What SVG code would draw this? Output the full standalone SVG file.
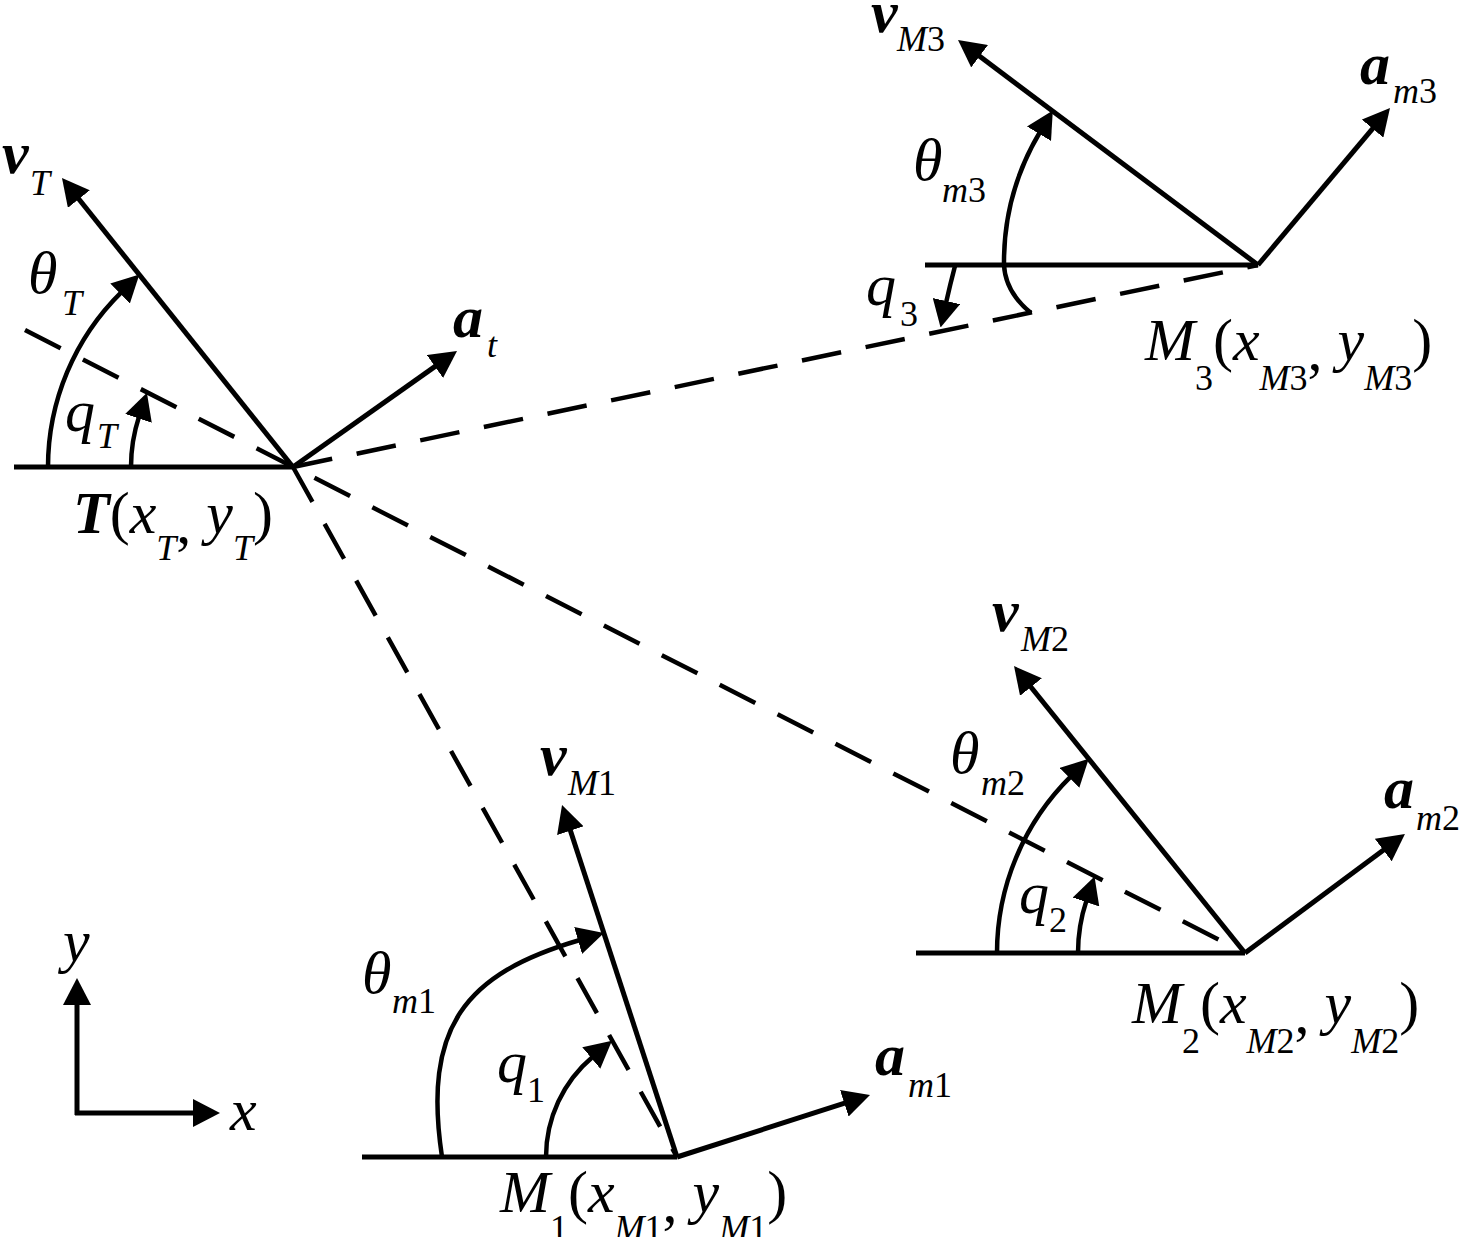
<svg xmlns="http://www.w3.org/2000/svg" width="1462" height="1237" viewBox="0 0 1462 1237">
<style>
.ln{stroke:#000;stroke-width:5;fill:none}
.arc{stroke:#000;stroke-width:4.5;fill:none}
.ds{stroke:#000;stroke-width:4.5;stroke-dasharray:40 25;fill:none}
.ar{marker-end:url(#ah)}
text{font-family:"Liberation Serif","Times New Roman",serif;font-style:italic;font-size:60px;fill:#000}
.b{font-weight:bold}
.s{font-size:36px}
.u{font-style:normal}
</style>
<defs>
<marker id="ah" viewBox="0 0 27 28" refX="2" refY="14" markerWidth="27" markerHeight="28" orient="auto" markerUnits="userSpaceOnUse"><path d="M0,0 L27,14 L0,28 Z" fill="#000"/></marker>
</defs>
<rect width="1462" height="1237" fill="#fff"/>
<g id="connectors">
<line class="ds" x1="25" y1="330" x2="1245" y2="953"/>
<line class="ds" x1="293" y1="467" x2="677" y2="1157"/>
<line class="ds" x1="293" y1="467" x2="1258" y2="265"/>
</g>
<g id="node-T">
<line class="ln" x1="14" y1="467" x2="293" y2="467"/>
<line class="ln ar" x1="293" y1="467" x2="77.6" y2="197.5"/>
<line class="ln ar" x1="293" y1="467" x2="436.6" y2="365.4"/>
<path class="arc ar" d="M48,467 A245,245 0 0 1 121.5,292.1"/>
<path class="arc ar" d="M131,467 A162,162 0 0 1 139.1,416.4"/>
<text x="2" y="173"><tspan class="b">v</tspan><tspan class="s" x="30" y="195">T</tspan></text>
<text x="28" y="293">θ<tspan class="s" x="62" y="315">T</tspan></text>
<text x="453" y="337"><tspan class="b">a</tspan><tspan class="s" x="487" y="357">t</tspan></text>
<text x="65" y="431">q<tspan class="s" x="97" y="448">T</tspan></text>
<text x="73" y="533"><tspan class="b">T</tspan><tspan class="u">(</tspan>x<tspan class="s" dy="27">T</tspan><tspan class="u" dy="-17">,</tspan><tspan dy="-10"> y</tspan><tspan class="s" dy="27">T</tspan><tspan class="u" dy="-27">)</tspan></text>
</g>
<g id="node-M3">
<line class="ln" x1="925" y1="265" x2="1258" y2="265"/>
<line class="ln ar" x1="1258" y1="265" x2="978" y2="55"/>
<line class="ln ar" x1="1258" y1="265" x2="1373.9" y2="127.1"/>
<path class="arc ar" d="M1031,313 C1015,300 1005,285 1004,265 A254,254 0 0 1 1040,132"/>
<path class="arc ar" d="M955,266 Q950,285 946,303"/>
<text x="871" y="32"><tspan class="b">v</tspan><tspan class="s" x="897" y="51">M<tspan class="u">3</tspan></tspan></text>
<text x="1360" y="84"><tspan class="b">a</tspan><tspan class="s" x="1393" y="103">m<tspan class="u">3</tspan></tspan></text>
<text x="913" y="180">θ<tspan class="s" x="942" y="202">m<tspan class="u">3</tspan></tspan></text>
<text x="866" y="305">q<tspan class="s u" x="900" y="326">3</tspan></text>
<text x="1145" y="360">M<tspan class="s u" dy="30">3</tspan><tspan class="u" dy="-30">(</tspan>x<tspan class="s" dy="30">M<tspan class="u">3</tspan></tspan><tspan class="u" dy="-20">,</tspan><tspan dy="-10"> y</tspan><tspan class="s" dy="30">M<tspan class="u">3</tspan></tspan><tspan class="u" dy="-30">)</tspan></text>
</g>
<g id="node-M2">
<line class="ln" x1="916" y1="953" x2="1245" y2="953"/>
<line class="ln ar" x1="1245" y1="953" x2="1029.7" y2="685.5"/>
<line class="ln ar" x1="1245" y1="953" x2="1384.9" y2="848.9"/>
<path class="arc ar" d="M997,953 A248,248 0 0 1 1070.9,776.4"/>
<path class="arc ar" d="M1078,953 A167,167 0 0 1 1086.6,900.1"/>
<text x="992" y="631"><tspan class="b">v</tspan><tspan class="s" x="1021" y="651">M<tspan class="u">2</tspan></tspan></text>
<text x="1384" y="808"><tspan class="b">a</tspan><tspan class="s" x="1416" y="830">m<tspan class="u">2</tspan></tspan></text>
<text x="950" y="773">θ<tspan class="s" x="981" y="795">m<tspan class="u">2</tspan></tspan></text>
<text x="1019" y="913">q<tspan class="s u" x="1049" y="932">2</tspan></text>
<text x="1132" y="1023">M<tspan class="s u" dy="30">2</tspan><tspan class="u" dy="-30">(</tspan>x<tspan class="s" dy="30">M<tspan class="u">2</tspan></tspan><tspan class="u" dy="-20">,</tspan><tspan dy="-10"> y</tspan><tspan class="s" dy="30">M<tspan class="u">2</tspan></tspan><tspan class="u" dy="-30">)</tspan></text>
</g>
<g id="node-M1">
<line class="ln" x1="362" y1="1157" x2="677" y2="1157"/>
<line class="ln ar" x1="677" y1="1157" x2="569.8" y2="828.8"/>
<line class="ln ar" x1="677" y1="1157" x2="846.2" y2="1102.6"/>
<path class="arc ar" d="M442,1157 C422.5,1027 464.8,973.6 580,940"/>
<path class="arc ar" d="M546,1157 A131,131 0 0 1 592.8,1056.7"/>
<text x="540" y="775"><tspan class="b">v</tspan><tspan class="s" x="568" y="795">M<tspan class="u">1</tspan></tspan></text>
<text x="875" y="1075"><tspan class="b">a</tspan><tspan class="s" x="908" y="1097">m<tspan class="u">1</tspan></tspan></text>
<text x="362" y="993">θ<tspan class="s" x="392" y="1013">m<tspan class="u">1</tspan></tspan></text>
<text x="497" y="1082">q<tspan class="s u" x="527" y="1102">1</tspan></text>
<text x="500" y="1212">M<tspan class="s u" dy="28">1</tspan><tspan class="u" dy="-28">(</tspan>x<tspan class="s" dy="28">M<tspan class="u">1</tspan></tspan><tspan class="u" dy="-18">,</tspan><tspan dy="-10"> y</tspan><tspan class="s" dy="28">M<tspan class="u">1</tspan></tspan><tspan class="u" dy="-28">)</tspan></text>
</g>
<g id="axes">
<line class="ln ar" x1="77" y1="1115" x2="77" y2="1003"/>
<line class="ln ar" x1="75" y1="1113" x2="195" y2="1113"/>
<text x="63" y="961">y</text>
<text x="230" y="1130">x</text>
</g>
</svg>
